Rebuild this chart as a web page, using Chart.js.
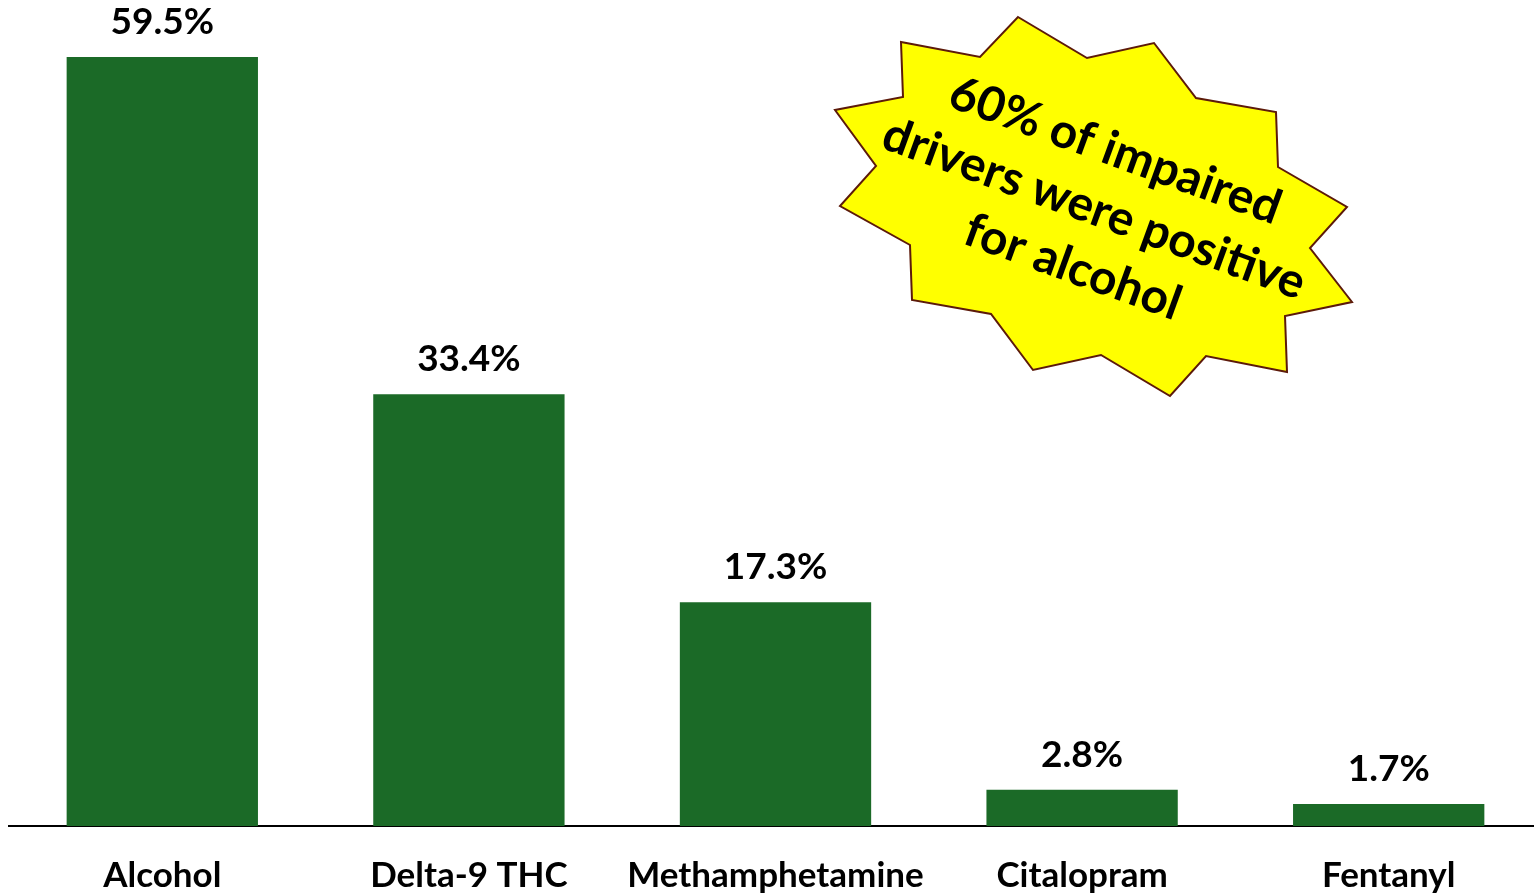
<!DOCTYPE html>
<html>
<head>
<meta charset="utf-8">
<script src="https://cdn.jsdelivr.net/npm/chart.js@4"></script>
<style>
  html, body { margin: 0; padding: 0; background: #fff; overflow: hidden; }
  #wrap { width: 1534px; height: 893px; overflow: hidden; }
</style>
</head>
<body>
<div id="wrap"><canvas id="chart" width="1542" height="893"></canvas></div>
<script>
const CATEGORIES = ['Alcohol', 'Delta-9 THC', 'Methamphetamine', 'Citalopram', 'Fentanyl'];
const PERCENTS = [59.5, 33.4, 17.3, 2.8, 1.7];
const CALLOUT_LINES = ['60% of impaired', 'drivers were positive', 'for alcohol'];

const BAR_COLOR = '#1B6A27';
const FONT = 'Lato, "Open Sans", sans-serif';

// starburst outline (page pixels), annotation only
const BURST = [
  [1018, 17], [1087, 58], [1154, 43], [1196, 98], [1276, 112], [1278, 167],
  [1347, 207], [1310, 248], [1352, 302], [1285, 316], [1287, 372], [1206, 356],
  [1170, 396], [1101, 355], [1033, 370], [991, 314], [912, 300], [910, 245],
  [840, 206], [876, 166], [835, 110], [903, 97], [901, 42], [980, 57],
];

const valueLabels = {
  id: 'valueLabels',
  afterDatasetsDraw(chart) {
    const ctx = chart.ctx;
    const meta = chart.getDatasetMeta(0);
    ctx.save();
    ctx.font = `bold 37px ${FONT}`;
    ctx.fillStyle = '#000';
    ctx.textAlign = 'center';
    ctx.textBaseline = 'middle';
    meta.data.forEach((bar, i) => {
      ctx.fillText(`${PERCENTS[i].toFixed(1)}%`, bar.x, bar.y - 35);
    });
    ctx.restore();
  },
};

const callout = {
  id: 'callout',
  afterDraw(chart) {
    const ctx = chart.ctx;
    ctx.save();
    ctx.beginPath();
    BURST.forEach(([x, y], i) => (i ? ctx.lineTo(x, y) : ctx.moveTo(x, y)));
    ctx.closePath();
    ctx.fillStyle = '#FFFF00';
    ctx.fill();
    ctx.lineWidth = 2;
    ctx.strokeStyle = '#5C1A0A';
    ctx.stroke();

    ctx.translate(1094, 209);
    ctx.rotate(20 * Math.PI / 180);
    ctx.font = `bold 48px ${FONT}`;
    ctx.fillStyle = '#000';
    ctx.textAlign = 'center';
    ctx.textBaseline = 'middle';
    CALLOUT_LINES.forEach((line, i) => ctx.fillText(line, 0, (i - 1) * 62));
    ctx.restore();
  },
};

new Chart(document.getElementById('chart'), {
  type: 'bar',
  data: {
    labels: CATEGORIES,
    datasets: [{
      data: PERCENTS,
      backgroundColor: BAR_COLOR,
      barPercentage: 0.624,
      categoryPercentage: 1,
    }],
  },
  options: {
    responsive: false,
    animation: false,
    layout: { padding: { left: 9, right: 0, top: 0, bottom: -33 } },
    plugins: { legend: { display: false }, tooltip: { enabled: false } },
    scales: {
      x: {
        grid: { display: false, drawTicks: false },
        border: { display: true, color: '#000', width: 2 },
        ticks: { color: '#000', padding: 29, font: { family: FONT, size: 35, weight: 'bold', lineHeight: 1.2 } },
      },
      y: { display: false, min: 0, max: 63.9 },
    },
  },
  plugins: [valueLabels, callout],
});
</script>
</body>
</html>
